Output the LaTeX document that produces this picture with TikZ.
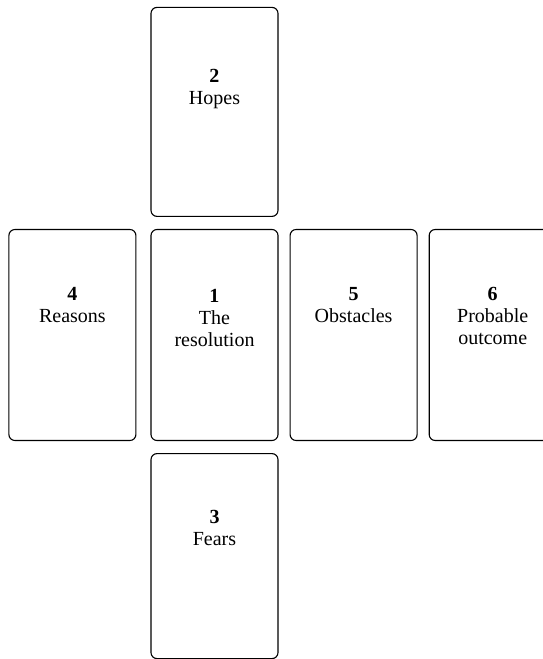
\documentclass[tikz,border=0pt]{standalone}
\usepackage{fontspec}
\setmainfont{Liberation Serif}
\usepackage{tikz}
\usetikzlibrary{positioning}
\tikzset{
  card/.style={draw, line width=1.1pt, rounded corners=6pt, minimum width=127pt, minimum height=211pt, inner sep=0pt},
  cardtext/.style={anchor=north, align=center, inner sep=0pt, font=\fontsize{20}{22}\selectfont},
}

\begin{document}
\begin{tikzpicture}[node distance=11pt]
\useasboundingbox (-214.5pt,-324pt) rectangle (328.5pt,335pt);
\node[card] (c1) {};
\node[card, above=12pt of c1, minimum height=209pt] (c2) {};
\node[card, below=12pt of c1, minimum height=205pt] (c3) {};
\node[card, left=14pt of c1] (c4) {};
\node[card, right=of c1] (c5) {};
\node[card, right=of c5] (c6) {};
\node[cardtext] (t1) at ([yshift=-60pt]c1.north) {\textbf{1}\\The\\resolution};
\node[cardtext] (t2) at ([yshift=-62pt]c2.north) {\textbf{2}\\Hopes};
\node[cardtext] (t3) at ([yshift=-57pt]c3.north) {\textbf{3}\\Fears};
\node[cardtext] (t4) at ([yshift=-58pt]c4.north) {\textbf{4}\\Reasons};
\node[cardtext] (t5) at ([yshift=-58pt]c5.north) {\textbf{5}\\Obstacles};
\node[cardtext] (t6) at ([yshift=-58pt]c6.north) {\textbf{6}\\Probable\\outcome};
\end{tikzpicture}
\end{document}
